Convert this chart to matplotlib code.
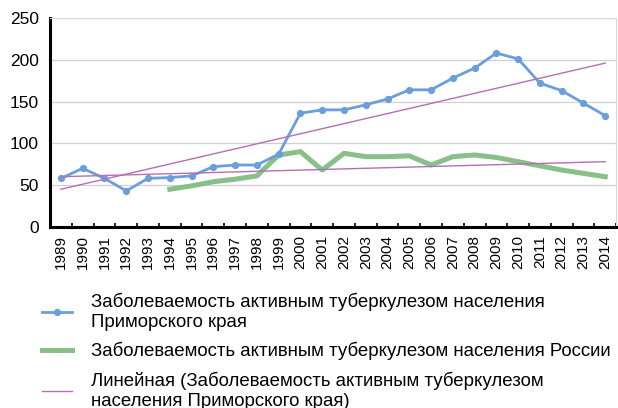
import numpy as np
import matplotlib.pyplot as plt

plt.rcParams['font.family'] = ['Liberation Sans', 'DejaVu Sans']

# данные
years = [str(y) for y in range(1989, 2015)]
primorye = [58, 70, 58, 43, 58, 59, 61, 72, 74, 74, 87, 136, 140, 140, 146, 153,
            164, 164, 178, 190, 208, 201, 172, 163, 148, 133]
russia = [np.nan] * 5 + [45, 49, 54, 57, 61, 86, 90, 68, 88, 84, 84, 85, 74, 84,
                         86, 83, 78, 73, 68, 64, 60]
trend_primorye = [45, 196]   # начало и конец линейного тренда
trend_russia = [60, 78]

labels = ['Заболеваемость активным туберкулезом населения\nПриморского края',
          'Заболеваемость активным туберкулезом населения России',
          'Линейная (Заболеваемость активным туберкулезом\nнаселения Приморского края)']

fig = plt.figure(figsize=(6.18, 4.08), dpi=100)
ax = fig.add_axes([0.081, 0.444, 0.916, 0.512])

x = np.arange(len(years))
l1, = ax.plot(x, primorye, color='#6a9fdc', lw=2.0, marker='o', ms=4.2, zorder=4)
l2, = ax.plot(x, russia, color='#88c088', lw=3.6, zorder=3)
l3, = ax.plot([x[0], x[-1]], trend_primorye, color='#b56fb5', lw=1.0, zorder=5)
ax.plot([x[0], x[-1]], trend_russia, color='#b56fb5', lw=1.0, zorder=5)

ax.set_xlim(-0.5, len(years) - 0.5)
ax.set_ylim(0, 250)
ax.set_yticks([0, 50, 100, 150, 200, 250])
ax.set_xticks(x)
ax.set_xticklabels(years, rotation=90, fontsize=11)
ax.tick_params(axis='y', labelsize=12.5, length=0, pad=8)
ax.tick_params(axis='x', length=0, pad=6)
ax.set_xticks(np.arange(len(years) + 1) - 0.5, minor=True)
ax.tick_params(axis='x', which='minor', direction='in', length=3, width=1.2)

ax.grid(axis='y', color='#d0d0d0', lw=0.9)
ax.set_axisbelow(True)
for s in ['top', 'right']:
    ax.spines[s].set_color('#d8d8d8')
    ax.spines[s].set_linewidth(0.8)
ax.spines['left'].set_linewidth(2.2)
ax.spines['bottom'].set_linewidth(2.2)

fig.legend([l1, l2, l3], labels, loc='upper left', bbox_to_anchor=(0.056, 0.30),
           frameon=False, fontsize=13.4, handlelength=1.6, handletextpad=1.05,
           labelspacing=0.6, borderaxespad=0)

fig.savefig('out.png', dpi=100)
